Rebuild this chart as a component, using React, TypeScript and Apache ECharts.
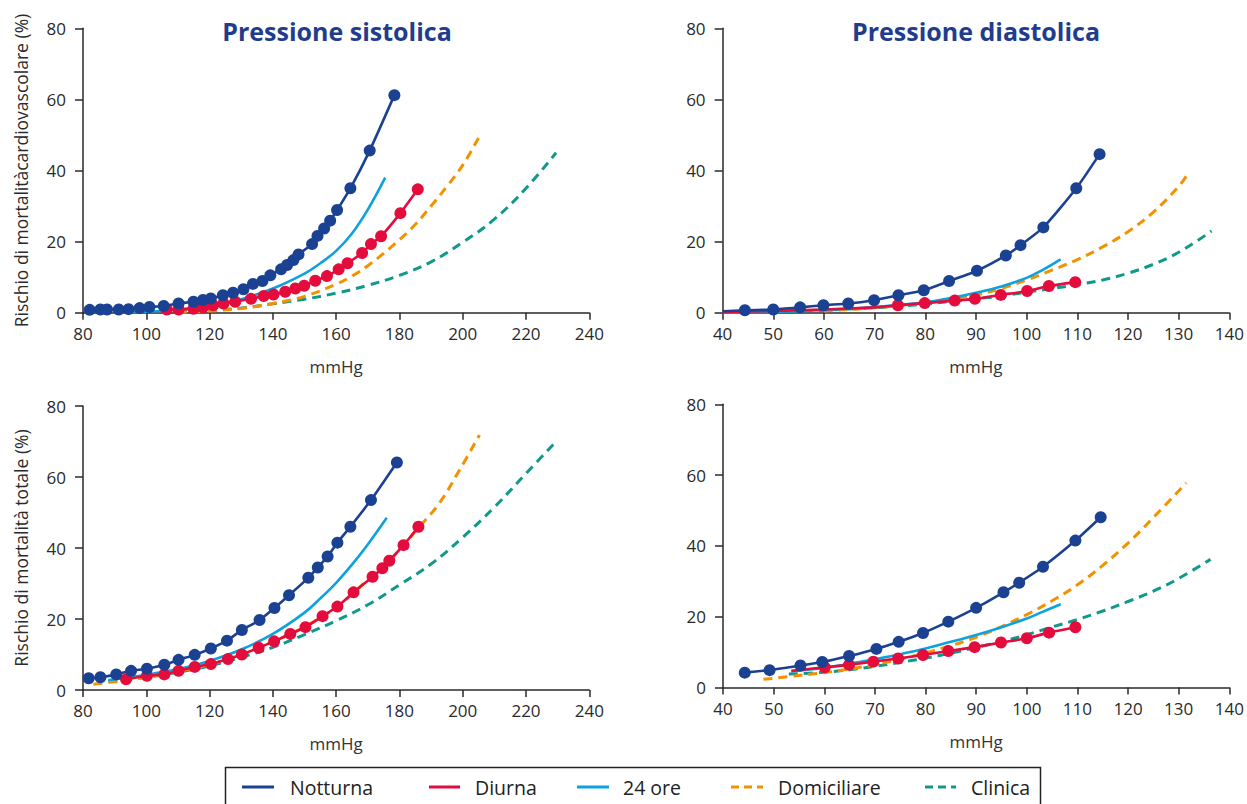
import React, { useEffect, useRef } from "react";
import * as echarts from "echarts";

// ---------- DATA ----------
type P = [number, number];

// Systolic, cardiovascular mortality (top-left)
const sysCvNotturna: P[] = [[82.1,0.8],[85.5,0.9],[87.6,0.9],[91.3,0.9],[94.4,1.0],[97.9,1.3],[101.0,1.6],[105.5,1.9],[110.2,2.6],[114.9,3.1],[117.9,3.6],[120.4,4.0],[124.2,4.9],[127.4,5.6],[130.7,6.6],[133.7,8.1],[136.7,8.9],[139.2,10.5],[142.6,12.2],[144.5,13.4],[146.5,14.8],[148.1,16.4],[152.4,19.3],[154.1,21.6],[156.2,23.7],[158.1,25.9],[160.3,28.9],[164.5,35.0],[170.6,45.6],[178.4,61.2]];
const sysCvDiurna: P[] = [[106.5,0.9],[110.2,0.9],[114.9,1.1],[117.9,1.5],[121.1,2.1],[124.4,2.6],[128.1,3.1],[133.1,3.9],[137.1,4.7],[140.2,5.1],[143.9,5.9],[147.1,6.8],[149.9,7.6],[153.4,9.0],[157.1,10.3],[160.8,12.2],[163.6,13.9],[168.2,16.8],[171.0,19.3],[174.2,21.5],[180.3,28.0],[185.8,34.7]];
const sysCv24ore: P[] = [[90,0.05],[100,0.3],[110,0.9],[120,2.0],[130,3.8],[140,6.8],[150,11.0],[155,13.9],[160,17.4],[165,22.3],[170,29.0],[175.5,38.0]];
const sysCvDomiciliare: P[] = [[110,0.1],[120,0.5],[130,1.2],[140,2.6],[150,4.6],[160,8.0],[165,10.3],[170,13.2],[175,16.7],[180,20.5],[185,24.8],[190,30.0],[195,35.5],[200,41.5],[205.5,50.0]];
const sysCvClinica: P[] = [[110,0.2],[120,0.7],[130,1.3],[140,2.5],[150,3.8],[160,5.5],[170,7.7],[180,10.5],[190,14.3],[200,19.8],[210,26.3],[220,35.0],[229.5,45.0]];

// Diastolic, cardiovascular mortality (top-right)
const diaCvNotturnaLead: P[] = [[40,0.4]];
const diaCvNotturna: P[] = [[44.4,0.7],[50.0,0.9],[55.3,1.5],[59.9,2.1],[64.8,2.6],[69.9,3.5],[74.7,4.9],[79.7,6.3],[84.7,8.9],[90.2,11.8],[95.9,16.1],[98.8,19.0],[103.3,24.0],[109.8,35.0],[114.4,44.6]];
const diaCvDiurnaLead: P[] = [[40,0.2],[50,0.5],[60,0.9],[70,1.5]];
const diaCvDiurna: P[] = [[74.6,2.1],[79.9,2.7],[85.8,3.4],[89.8,3.9],[94.9,5.0],[100.1,6.1],[104.4,7.5],[109.6,8.6]];
const diaCv24ore: P[] = [[40,0.1],[50,0.3],[60,0.8],[70,1.6],[80,2.9],[85,4.1],[90,5.6],[95,7.4],[100,9.8],[103,11.9],[106.7,15.0]];
const diaCvDomiciliare: P[] = [[60,0.5],[70,1.4],[80,2.8],[85,3.8],[90,5.0],[95,6.8],[100,9.2],[105,12.0],[110,14.9],[115,18.5],[120,22.8],[125,28.3],[130,35.5],[132,39.5]];
const diaCvClinica: P[] = [[50,0.3],[60,0.7],[70,1.4],[80,2.4],[85,3.2],[90,3.9],[95,4.7],[100,5.8],[105,6.8],[110,7.9],[115,9.2],[120,11.1],[125,13.6],[129,16.2],[133,19.6],[136.5,23.0]];

// Systolic, total mortality (bottom-left)
const sysTotNotturna: P[] = [[81.8,3.3],[85.5,3.6],[90.5,4.4],[95.2,5.4],[100.2,6.0],[105.7,7.1],[110.2,8.5],[115.3,9.9],[120.4,11.7],[125.5,13.9],[130.2,16.9],[135.8,19.7],[140.5,23.1],[145.1,26.7],[151.2,31.6],[154.2,34.5],[157.3,37.6],[160.4,41.5],[164.5,46.0],[171.0,53.5],[179.2,64.1]];
const sysTotDiurna: P[] = [[93.6,3.0],[100.2,4.0],[105.7,4.4],[110.2,5.4],[115.3,6.5],[120.4,7.3],[125.8,8.7],[130.2,10.0],[135.5,11.9],[140.4,13.7],[145.5,15.8],[150.3,17.7],[155.7,20.8],[160.4,23.5],[165.5,27.5],[171.5,31.9],[174.6,34.3],[176.8,36.4],[181.3,40.8],[186.0,46.0]];
const sysTot24ore: P[] = [[88,2.8],[100,4.3],[110,5.9],[120,8.2],[130,11.4],[140,15.8],[150,21.8],[155,25.8],[160,30.2],[165,35.3],[170,41.0],[176,48.5]];
const sysTotDomiciliare: P[] = [[83.3,1.6],[90,2.3],[100,3.6],[110,5.2],[120,7.2],[130,9.9],[140,13.6],[150,17.8],[160,23.3],[170,31.0],[178,37.5],[186.3,46.0],[192.6,52.6],[199,62.0],[205.3,71.8]];
const sysTotClinica: P[] = [[88,2.5],[100,3.6],[110,5.0],[120,6.8],[130,9.2],[140,12.0],[150,15.6],[160,19.5],[170,24.0],[180,29.6],[190,35.5],[200,43.0],[210,51.5],[220,61.0],[229.5,70.0]];

// Diastolic, total mortality (bottom-right)
const diaTotNotturna: P[] = [[44.3,4.2],[49.2,4.9],[55.3,6.2],[59.6,7.2],[64.9,8.9],[70.3,10.9],[74.7,12.9],[79.5,15.4],[84.5,18.6],[90.0,22.5],[95.4,26.9],[98.5,29.6],[103.2,34.1],[109.6,41.5],[114.6,48.1]];
const diaTotDiurnaLead: P[] = [[53.5,4.7]];
const diaTotDiurna: P[] = [[60.1,5.7],[64.9,6.4],[69.7,7.3],[74.6,8.2],[79.5,9.2],[84.5,10.3],[89.7,11.4],[94.9,12.7],[100.0,13.9],[104.4,15.5],[109.6,17.0]];
const diaTot24ore: P[] = [[53.5,4.5],[60,5.6],[65,6.7],[70,8.0],[75,9.4],[80,11.0],[85,12.9],[90,14.8],[95,17.0],[100,19.5],[103,21.3],[106.7,23.5]];
const diaTotDomiciliare: P[] = [[48,2.3],[55,3.4],[60,4.2],[65,5.2],[70,6.5],[75,8.0],[80,9.8],[85,11.8],[90,14.2],[95,17.2],[100,20.6],[105,24.5],[110,29.0],[115,34.5],[120,40.8],[125,48.0],[131.5,57.8]];
const diaTotClinica: P[] = [[53,3.8],[60,4.3],[65,5.0],[70,6.0],[75,7.1],[80,8.3],[85,9.7],[90,11.3],[95,13.0],[100,14.9],[105,17.1],[110,19.2],[115,21.6],[120,24.3],[125,27.2],[130,30.8],[136.3,36.2]];

const seriesNames = ["Notturna", "Diurna", "24 ore", "Domiciliare", "Clinica"];
const panelTitles = ["Pressione sistolica", "Pressione diastolica"];
const yAxisNames = ["Rischio di mortalitàcardiovascolare (%)", "Rischio di mortalità totale (%)"];
const xAxisName = "mmHg";

// ---------- STYLE ----------
const FONT = '"Open Sans", Lato, "Noto Sans", sans-serif';
const C = {
  Notturna: "#1b4192",
  Diurna: "#e30c3c",
  "24 ore": "#0ca1df",
  Domiciliare: "#f39200",
  Clinica: "#10998b",
};
const AXIS = "#2a2a2a";

const grids = [
  { left: 83, top: 28.3, width: 506.3, height: 284.4 },
  { left: 722.6, top: 28.3, width: 506.7, height: 284.4 },
  { left: 83, top: 406, width: 506.3, height: 284 },
  { left: 723, top: 404.3, width: 506.3, height: 283.2 },
];

function xAxis(i: number, sys: boolean) {
  return {
    type: "value",
    gridIndex: i,
    min: sys ? 80 : 40,
    max: sys ? 240 : 140,
    interval: sys ? 20 : 10,
    name: xAxisName,
    nameLocation: "middle",
    nameGap: 45,
    nameTextStyle: { fontFamily: FONT, fontSize: 17, color: "#333" },
    axisLine: { onZero: false, lineStyle: { color: AXIS, width: 1.5 } },
    axisTick: { show: true, length: 7, lineStyle: { color: AXIS, width: 1.5 } },
    axisLabel: { margin: 12, fontFamily: FONT, fontSize: 17, color: "#2a2a2a" },
    splitLine: { show: false },
  };
}
function yAxis(i: number, name: string | null) {
  return {
    type: "value",
    gridIndex: i,
    min: 0,
    max: 80,
    interval: 20,
    name: name || "",
    nameLocation: "middle",
    nameGap: 53,
    nameTextStyle: { fontFamily: FONT, fontSize: 17.5, color: "#2a2a2a" },
    axisLine: { show: true, onZero: false, lineStyle: { color: AXIS, width: 1.5 } },
    axisTick: { show: true, length: 8, lineStyle: { color: AXIS, width: 1.5 } },
    axisLabel: { margin: 17, fontFamily: FONT, fontSize: 17, color: "#2a2a2a" },
    splitLine: { show: false },
  };
}

function curve(name: string, data: any[], i: number, z: number) {
  const color = (C as any)[name];
  const dashed = name === "Domiciliare" || name === "Clinica";
  const marked = name === "Notturna" || name === "Diurna";
  return {
    type: "line",
    name,
    xAxisIndex: i,
    yAxisIndex: i,
    data,
    smooth: marked ? 0.2 : 0.4,
    showSymbol: marked,
    symbol: "circle",
    symbolSize: 12,
    itemStyle: { color },
    lineStyle: { color, width: dashed ? 3 : 2.6, type: dashed ? [9, 6] : "solid" },
    z,
    silent: true,
  };
}
const lead = (pts: P[]) => pts.map((p) => ({ value: p, symbol: "none" }));

function panelSeries(i: number, n: any[], d: any[], h: P[], dom: P[], cl: P[]) {
  return [
    curve("Clinica", cl, i, 2),
    curve("Domiciliare", dom, i, 3),
    curve("24 ore", h, i, 4),
    curve("Diurna", d, i, 5),
    curve("Notturna", n, i, 6),
  ];
}

const legendItems = [
  { name: seriesNames[0], x1: 242, x2: 274, tx: 290 },
  { name: seriesNames[1], x1: 429, x2: 460, tx: 475 },
  { name: seriesNames[2], x1: 577, x2: 609, tx: 623 },
  { name: seriesNames[3], x1: 731, x2: 763, tx: 778 },
  { name: seriesNames[4], x1: 925, x2: 956, tx: 971 },
];

export default function App() {
  const ref = useRef<HTMLDivElement>(null);
  useEffect(() => {
    if (!ref.current) return;
    const chart = echarts.init(ref.current, null, { renderer: "svg" });
    const legendGraphics: any[] = [];
    legendGraphics.push({
      type: "rect",
      shape: { x: 225.5, y: 767.5, width: 815, height: 60 },
      style: { fill: "none", stroke: "#222", lineWidth: 1.5 },
    });
    legendItems.forEach((it) => {
      const col = (C as any)[it.name];
      const dashed = it.name === "Domiciliare" || it.name === "Clinica";
      legendGraphics.push({
        type: "line",
        shape: { x1: it.x1, y1: 787, x2: it.x2, y2: 787 },
        style: { stroke: col, lineWidth: 3, lineDash: dashed ? [8, 5] : null },
      });
      legendGraphics.push({
        type: "text",
        x: it.tx,
        y: 787,
        style: {
          text: it.name,
          fontFamily: FONT,
          fontSize: 19.5,
          fill: "#222",
          verticalAlign: "middle",
        },
      });
    });
    const title = (text: string, x: number) => ({
      type: "text",
      x,
      y: 31,
      style: {
        text,
        fontFamily: FONT,
        fontSize: 25,
        fontWeight: "bold",
        fill: "#1f3d8c",
        align: "center",
        verticalAlign: "middle",
      },
    });
    chart.setOption({
      animation: false,
      backgroundColor: "#ffffff",
      grid: grids,
      xAxis: [xAxis(0, true), xAxis(1, false), xAxis(2, true), xAxis(3, false)],
      yAxis: [yAxis(0, yAxisNames[0]), yAxis(1, null), yAxis(2, yAxisNames[1]), yAxis(3, null)],
      series: [
        ...panelSeries(0, sysCvNotturna, sysCvDiurna, sysCv24ore, sysCvDomiciliare, sysCvClinica),
        ...panelSeries(
          1,
          [...lead(diaCvNotturnaLead), ...diaCvNotturna],
          [...lead(diaCvDiurnaLead), ...diaCvDiurna],
          diaCv24ore,
          diaCvDomiciliare,
          diaCvClinica
        ),
        ...panelSeries(2, sysTotNotturna, sysTotDiurna, sysTot24ore, sysTotDomiciliare, sysTotClinica),
        ...panelSeries(
          3,
          diaTotNotturna,
          [...lead(diaTotDiurnaLead), ...diaTotDiurna],
          diaTot24ore,
          diaTotDomiciliare,
          diaTotClinica
        ),
      ],
      graphic: [title(panelTitles[0], 337), title(panelTitles[1], 976), ...legendGraphics],
    });
    return () => chart.dispose();
  }, []);
  return (
    <div
      ref={ref}
      style={{ position: "fixed", left: 0, top: 0, width: 1247, height: 804, background: "#fff" }}
    />
  );
}
